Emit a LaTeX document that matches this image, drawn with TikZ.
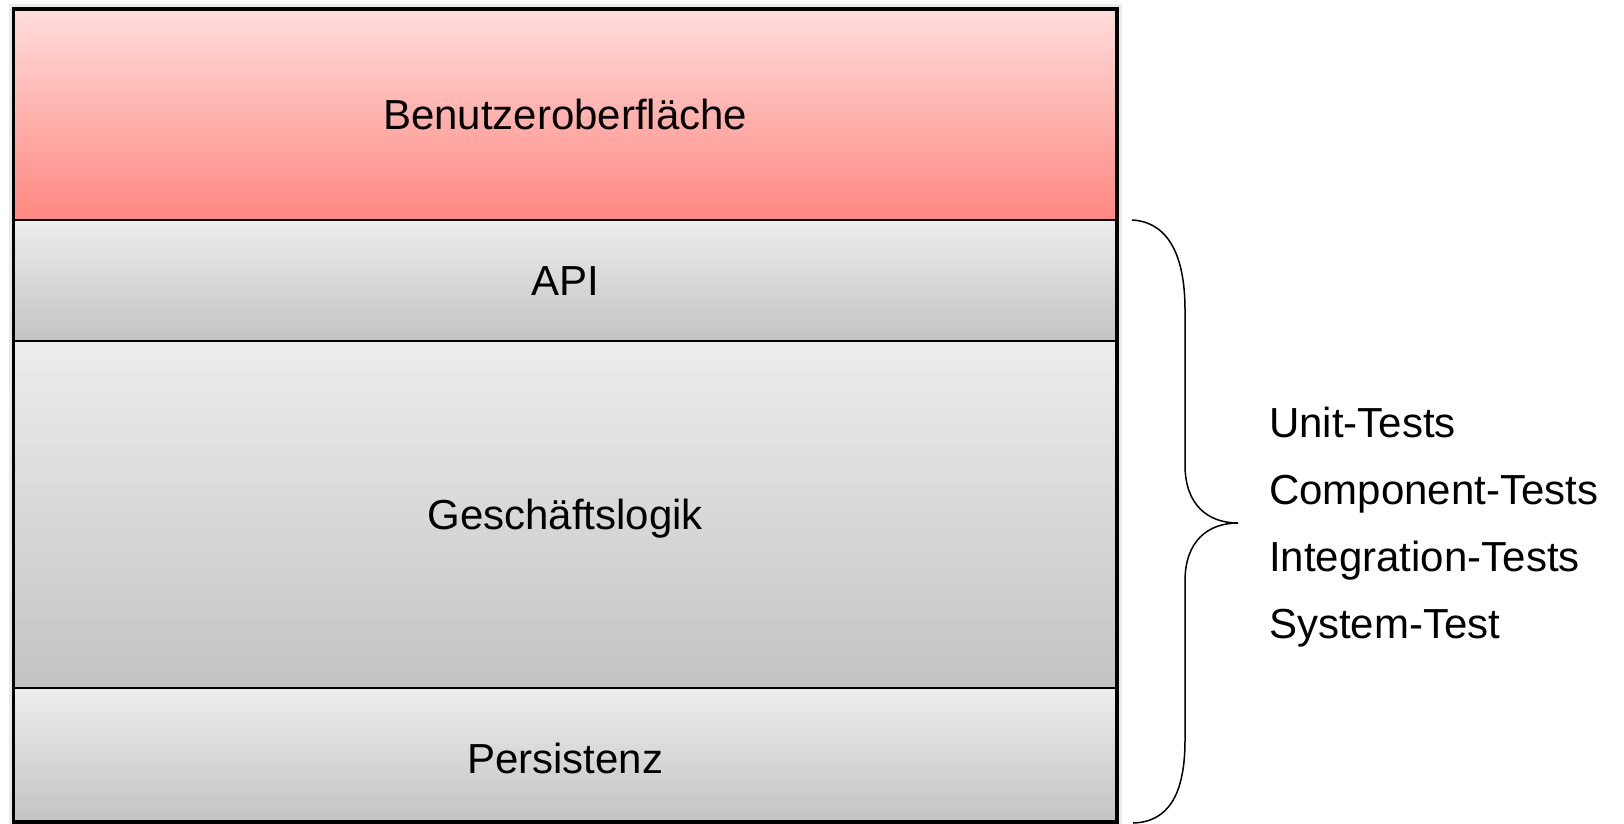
\documentclass[tikz,border=0pt]{standalone}
\usepackage{fontspec}
\setmainfont{Liberation Sans}

\definecolor{redtop}{RGB}{255,221,219}
\definecolor{redbot}{RGB}{255,135,128}
\definecolor{greytop}{RGB}{237,237,237}
\definecolor{greybot}{RGB}{195,195,195}

\begin{document}
\begin{tikzpicture}[x=1pt, y=-1pt,
	layer/.style={rectangle, draw, line width=2pt, outer sep=0pt, inner sep=0pt,
		minimum width=1103.5pt, text height=30pt, text depth=0pt,
		top color=greytop, bottom color=greybot, font=\fontsize{42}{50}\selectfont},
	testlabel/.style={anchor=base west, inner sep=0pt, font=\fontsize{42}{50}\selectfont}]

	\useasboundingbox (0,0) rectangle (1624,824);

	% faint shadow round the stack
	\draw[black!8, line width=9pt] (13.5,9) rectangle (1117,822);

	\node[layer, minimum height=211pt, top color=redtop, bottom color=redbot] (ui) at (565.25, 114.5) {Benutzeroberfläche};
	\node[layer, minimum height=121pt] (api) at (565.25, 280.5) {API};
	\node[layer, minimum height=347pt] (logic) at (565.25, 514.5) {Geschäftslogik};
	\node[layer, minimum height=134pt, text height=36pt] (db) at (565.25, 755) {Persistenz};

	\draw[line width=3.5pt] (ui.north west) rectangle (db.south east);

	% brace
	\draw[line width=1.5pt] (1132,220) .. controls (1168,222) and (1185,255) .. (1185,310)
		-- (1185,465) .. controls (1185,505) and (1208,523) .. (1238,523)
		.. controls (1208,523) and (1185,541) .. (1185,581)
		-- (1185,740) .. controls (1185,795) and (1168,822) .. (1133,823);

	\node[testlabel] (unit) at (1269, 437) {Unit-Tests};
	\node[testlabel] (comp) at (1269, 504) {Component-Tests};
	\node[testlabel] (integ) at (1269, 571) {Integration-Tests};
	\node[testlabel] (sys) at (1269, 638) {System-Test};
\end{tikzpicture}
\end{document}
